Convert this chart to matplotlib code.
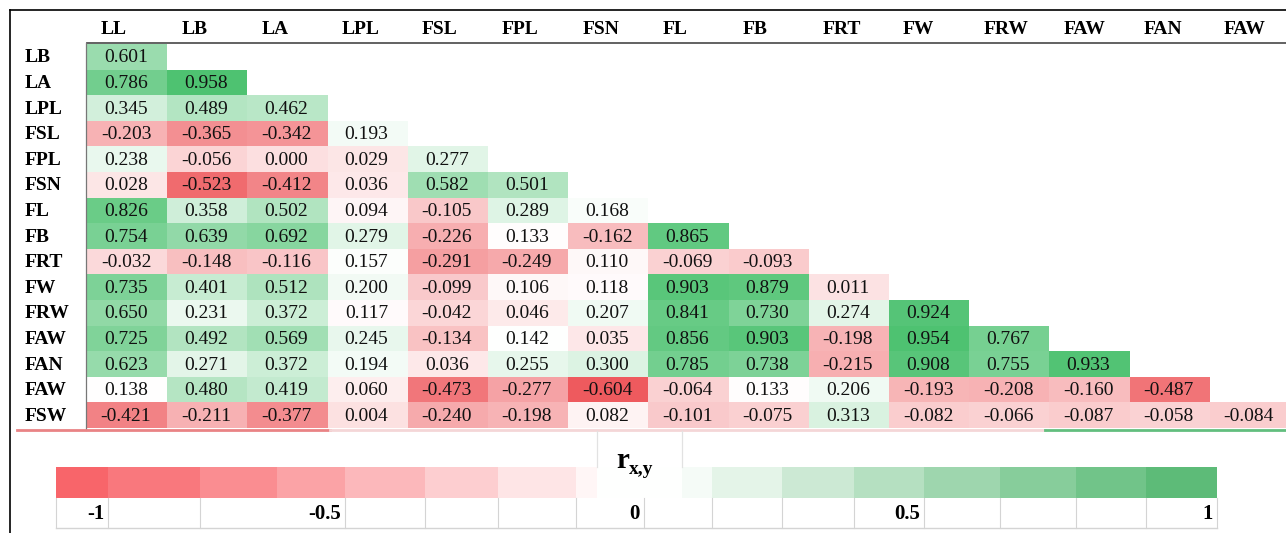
import numpy as np
import matplotlib
matplotlib.use("Agg")
import matplotlib.pyplot as plt
from matplotlib.colors import LinearSegmentedColormap, TwoSlopeNorm

# --- data -------------------------------------------------------------
col_labels = ["LL", "LB", "LA", "LPL", "FSL", "FPL", "FSN", "FL", "FB",
              "FRT", "FW", "FRW", "FAW", "FAN", "FAW"]
row_labels = ["LB", "LA", "LPL", "FSL", "FPL", "FSN", "FL", "FB", "FRT",
              "FW", "FRW", "FAW", "FAN", "FAW", "FSW"]

r_LB = [0.601]
r_LA = [0.786, 0.958]
r_LPL = [0.345, 0.489, 0.462]
r_FSL = [-0.203, -0.365, -0.342, 0.193]
r_FPL = [0.238, -0.056, 0.000, 0.029, 0.277]
r_FSN = [0.028, -0.523, -0.412, 0.036, 0.582, 0.501]
r_FL = [0.826, 0.358, 0.502, 0.094, -0.105, 0.289, 0.168]
r_FB = [0.754, 0.639, 0.692, 0.279, -0.226, 0.133, -0.162, 0.865]
r_FRT = [-0.032, -0.148, -0.116, 0.157, -0.291, -0.249, 0.110, -0.069, -0.093]
r_FW = [0.735, 0.401, 0.512, 0.200, -0.099, 0.106, 0.118, 0.903, 0.879, 0.011]
r_FRW = [0.650, 0.231, 0.372, 0.117, -0.042, 0.046, 0.207, 0.841, 0.730, 0.274, 0.924]
r_FAW = [0.725, 0.492, 0.569, 0.245, -0.134, 0.142, 0.035, 0.856, 0.903, -0.198, 0.954, 0.767]
r_FAN = [0.623, 0.271, 0.372, 0.194, 0.036, 0.255, 0.300, 0.785, 0.738, -0.215, 0.908, 0.755, 0.933]
r_FAW2 = [0.138, 0.480, 0.419, 0.060, -0.473, -0.277, -0.604, -0.064, 0.133, 0.206,
          -0.193, -0.208, -0.160, -0.487]
r_FSW = [-0.421, -0.211, -0.377, 0.004, -0.240, -0.198, 0.082, -0.101, -0.075, 0.313,
         -0.082, -0.066, -0.087, -0.058, -0.084]

rows = [r_LB, r_LA, r_LPL, r_FSL, r_FPL, r_FSN, r_FL, r_FB, r_FRT,
        r_FW, r_FRW, r_FAW, r_FAN, r_FAW2, r_FSW]

# legend scale
cbar_ticks = [-1, -0.5, 0, 0.5, 1]
cbar_levels = [-1, -0.87, -0.74, -0.6, -0.46, -0.32, -0.17, -0.06, 0,
               0.06, 0.17, 0.32, 0.46, 0.6, 0.74, 0.87, 1]

# --- layout (pixels) --------------------------------------------------
W, H = 1286, 533
X0, CW = 87, 80.2
Y0, RH = 44, 25.6
col_edges = X0 + CW * np.arange(len(col_labels) + 1)
row_edges = Y0 + RH * np.arange(len(row_labels) + 1)

cbar_edges = [56, 108, 200, 277, 345, 425, 498, 576, 597, 682, 712, 782,
              854, 924, 1000, 1076, 1146, 1217]
lab_edges = [56, 108, 200, 345, 425, 498, 576, 644, 712, 782, 854, 924,
             1000, 1076, 1146, 1217]
tick_cells = {-1: (56, 108), -0.5: (277, 345), 0: (576, 644),
              0.5: (854, 924), 1: (1146, 1217)}
CB_TOP, CB_BOT, LAB_BOT = 467, 498, 528

SERIF = ["Liberation Serif", "DejaVu Serif"]
plt.rcParams["font.family"] = SERIF

mat = np.full((len(row_labels), len(col_labels)), np.nan)
for i, vals in enumerate(rows):
    mat[i, :len(vals)] = vals
masked = np.ma.masked_invalid(mat)

cmap = LinearSegmentedColormap.from_list(
    "rwg", ["#EE5A5E", "#FFFFFF", "#4EC271"])
norm = TwoSlopeNorm(vmin=np.nanmin(mat), vcenter=np.nanmedian(mat),
                    vmax=np.nanmax(mat))

fig = plt.figure(figsize=(W / 100, H / 100), dpi=100)
ax = fig.add_axes([0, 0, 1, 1])
ax.set_xlim(0, W)
ax.set_ylim(H, 0)
ax.axis("off")

# outer frame
ax.plot([10, W], [10, 10], color="black", lw=1.2)
ax.plot([10, 10], [10, H], color="black", lw=1.2)

# heat cells
ax.pcolormesh(col_edges, row_edges, masked, cmap=cmap, norm=norm,
              edgecolors="none")

# header line + row-label separator
ax.plot([X0, W], [Y0 - 1, Y0 - 1], color="#555555", lw=1.3)
ax.plot([X0 - 1, X0 - 1], [Y0 - 1, row_edges[-1] + 2], color="#777777", lw=0.9)

# bottom coloured border under the table
for xa, xb, c in [(17, 330, "#E98385"), (330, 1045, "#F4D6D7"),
                  (1045, W, "#62BE7E")]:
    ax.plot([xa, xb], [row_edges[-1] + 1.5] * 2, color=c, lw=2)

# labels
for j, lab in enumerate(col_labels):
    ax.text(col_edges[j] + 14, 30, lab, fontsize=14, fontweight="bold",
            ha="left", va="center")
for i, lab in enumerate(row_labels):
    ym = (row_edges[i] + row_edges[i + 1]) / 2
    ax.text(25, ym + 1, lab, fontsize=14, fontweight="bold",
            ha="left", va="center")
    for j, v in enumerate(rows[i]):
        ax.text(col_edges[j] + 39, ym + 1, f"{v:.3f}", fontsize=14,
                ha="center", va="center", color="#111111")

# colour scale legend
cnorm = TwoSlopeNorm(vmin=-1, vcenter=0, vmax=1)
cmap_bar = LinearSegmentedColormap.from_list(
    "rwg_bar", ["#F8656A", "#FFFFFF", "#5DBB78"])
ax.pcolormesh(cbar_edges, [CB_TOP, CB_BOT], np.array([cbar_levels]),
              cmap=cmap_bar, norm=cnorm, edgecolors="none")
grid = "#D4D4D4"
ax.plot([lab_edges[0], lab_edges[-1]], [LAB_BOT, LAB_BOT], color=grid, lw=1)
for x in lab_edges:
    ax.plot([x, x], [CB_BOT, LAB_BOT], color=grid, lw=0.8)
for x in (597, 682):
    ax.plot([x, x], [row_edges[-1] + 3, CB_TOP], color="#E2E2E2", lw=0.9)
for t in cbar_ticks:
    xa, xb = tick_cells[t]
    ax.text(xb - 4, (CB_BOT + LAB_BOT) / 2 + 1, f"{t:g}", fontsize=15,
            fontweight="bold", ha="right", va="center")

ax.text(616, 468, "r", fontsize=21, fontweight="bold", ha="left",
        va="baseline")
ax.text(629, 474, "x,y", fontsize=14, fontweight="bold", ha="left",
        va="baseline")

fig.savefig("out.png", dpi=100)
